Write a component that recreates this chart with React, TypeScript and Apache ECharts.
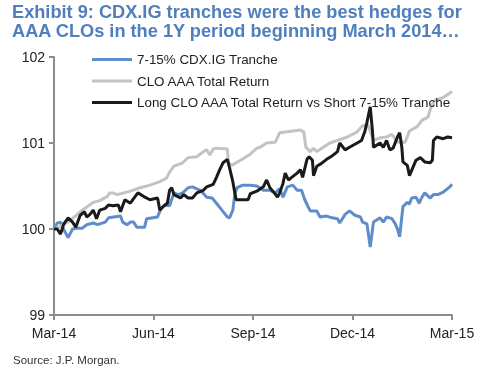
import React, { useEffect, useRef } from 'react';
import * as echarts from 'echarts';

const xTickLabels = ['Mar-14', 'Jun-14', 'Sep-14', 'Dec-14', 'Mar-15'];
const daysPerQuarter = 91.25;
const yTicks = [99, 100, 101, 102];
const seriesNames = [
  '7-15% CDX.IG Tranche',
  'CLO AAA Total Return',
  'Long CLO AAA Total Return vs Short 7-15% Tranche',
];

// [days since start of Mar-14, value]
const tranche = [
  [0, 100.0], [3, 100.07], [6, 100.08], [9, 99.99], [13, 99.9], [17, 100.0], [21, 100.01], [26, 100.01], [30, 100.05], [36, 100.07],
  [40, 100.05], [47, 100.08], [50, 100.13], [61, 100.15], [63, 100.08], [67, 100.05], [70, 100.08], [73, 100.08], [76, 100.02], [83, 100.02],
  [85, 100.12], [95, 100.14], [98, 100.24], [102, 100.28], [106, 100.27], [110, 100.42], [114, 100.4], [118, 100.42], [123, 100.48], [127, 100.49],
  [134, 100.45], [138, 100.4], [140, 100.37], [145, 100.36], [149, 100.3], [154, 100.22], [159, 100.14], [161, 100.13], [164, 100.22], [166, 100.42],
  [168, 100.48], [173, 100.51], [180, 100.51], [186, 100.5], [192, 100.45], [198, 100.45], [203, 100.42], [207, 100.47], [210, 100.37], [214, 100.49],
  [219, 100.51], [223, 100.45], [227, 100.45], [230, 100.34], [233, 100.26], [235, 100.21], [241, 100.21], [244, 100.14], [250, 100.15], [255, 100.13],
  [260, 100.12], [262, 100.07], [267, 100.17], [271, 100.21], [276, 100.16], [281, 100.14], [283, 100.08], [287, 100.06], [290, 99.79], [293, 100.08],
  [299, 100.13], [302, 100.08], [305, 100.14], [310, 100.12], [313, 100.06], [315, 100.0], [317, 99.91], [320, 100.26], [324, 100.31], [326, 100.29],
  [328, 100.36], [332, 100.37], [335, 100.3], [337, 100.36], [340, 100.42], [345, 100.36], [348, 100.4], [352, 100.4], [357, 100.43], [363, 100.49],
  [365, 100.52],
];

const cloAaa = [
  [0, 100.0], [6, 100.03], [15, 100.1], [24, 100.2], [36, 100.31], [42, 100.33], [49, 100.38], [51, 100.42], [54, 100.42], [58, 100.4],
  [70, 100.44], [79, 100.48], [88, 100.51], [97, 100.55], [103, 100.59], [106, 100.66], [110, 100.73], [118, 100.77], [123, 100.83], [131, 100.84],
  [137, 100.9], [140, 100.92], [143, 100.86], [146, 100.93], [149, 100.94], [159, 100.93], [160, 100.77], [163, 100.74], [171, 100.8], [180, 100.87],
  [186, 100.94], [189, 100.95], [195, 101.0], [203, 101.01], [207, 101.12], [214, 101.13], [226, 101.15], [229, 101.13], [231, 100.95], [235, 100.9],
  [238, 100.94], [241, 100.9], [247, 100.95], [253, 101.0], [260, 101.03], [269, 101.07], [278, 101.13], [283, 101.2], [288, 101.21], [293, 101.03],
  [299, 101.06], [305, 101.07], [310, 101.1], [315, 101.01], [322, 101.01], [326, 101.14], [333, 101.19], [338, 101.27], [343, 101.3], [346, 101.43],
  [349, 101.49], [357, 101.53], [363, 101.58], [365, 101.6],
];

const longShort = [
  [0, 100.0], [3, 100.0], [6, 99.94], [9, 100.06], [13, 100.13], [17, 100.08], [20, 100.02], [24, 100.16], [28, 100.2], [30, 100.14],
  [33, 100.17], [36, 100.22], [39, 100.12], [42, 100.22], [47, 100.24], [50, 100.28], [54, 100.27], [59, 100.28], [61, 100.2], [65, 100.34],
  [70, 100.3], [74, 100.37], [77, 100.42], [82, 100.38], [88, 100.34], [95, 100.36], [97, 100.22], [101, 100.27], [104, 100.3], [106, 100.45],
  [108, 100.48], [110, 100.4], [116, 100.36], [119, 100.4], [123, 100.36], [127, 100.36], [131, 100.42], [137, 100.45], [140, 100.49], [146, 100.52],
  [149, 100.6], [152, 100.69], [155, 100.77], [159, 100.81], [161, 100.71], [164, 100.55], [167, 100.34], [171, 100.34], [178, 100.34], [180, 100.41],
  [186, 100.44], [192, 100.49], [195, 100.57], [198, 100.48], [202, 100.42], [205, 100.37], [207, 100.42], [210, 100.53], [212, 100.65], [215, 100.57],
  [218, 100.6], [223, 100.65], [226, 100.69], [228, 100.6], [232, 100.81], [234, 100.84], [237, 100.8], [238, 100.62], [241, 100.73], [245, 100.76],
  [250, 100.81], [255, 100.85], [260, 100.9], [262, 101.0], [267, 100.92], [271, 100.95], [278, 101.0], [282, 101.03], [285, 101.13], [287, 101.24],
  [290, 101.42], [292, 101.15], [293, 100.95], [299, 101.0], [302, 100.95], [305, 101.03], [308, 100.92], [311, 100.94], [315, 101.07], [317, 101.12],
  [319, 100.95], [320, 100.78], [324, 100.74], [326, 100.62], [329, 100.71], [332, 100.8], [336, 100.83], [340, 100.78], [345, 100.77], [347, 100.8],
  [348, 101.03], [351, 101.07], [357, 101.05], [361, 101.07], [365, 101.06],
];

const colors = ['#5F8DCB', '#C3C3C3', '#1A1A1A'];
const fontFamily = 'Liberation Sans, Arial, sans-serif';

export default function App() {
  const ref = useRef<HTMLDivElement>(null);
  useEffect(() => {
    if (!ref.current) return;
    const chart = echarts.init(ref.current, undefined, { renderer: 'svg' });
    const axisLineStyle = { color: '#8C8C8C', width: 2 };
    chart.setOption({
      animation: false,
      color: colors,
      textStyle: { fontFamily },
      title: {
        text: 'Exhibit 9: CDX.IG tranches were the best hedges for\nAAA CLOs in the 1Y period beginning March 2014…',
        left: 12,
        top: 2,
        padding: 0,
        textStyle: {
          fontFamily,
          fontSize: 18.2,
          fontWeight: 'bold',
          color: '#4F7FBF',
          lineHeight: 19,
        },
      },
      legend: {
        data: seriesNames,
        orient: 'vertical',
        left: 92,
        top: 53,
        padding: 0,
        icon: 'rect',
        itemWidth: 40,
        itemHeight: 3,
        itemGap: 8.5,
        textStyle: { fontSize: 13.4, color: '#222', fontFamily },
      },
      grid: { left: 54, right: 36, top: 57, bottom: 60, outerBoundsMode: 'none' },
      xAxis: {
        type: 'value',
        min: 0,
        max: 365,
        interval: daysPerQuarter,
        axisLine: { show: true, lineStyle: axisLineStyle },
        axisTick: { show: true, length: 5, lineStyle: axisLineStyle },
        splitLine: { show: false },
        axisLabel: {
          fontSize: 14,
          color: '#222',
          margin: 11,
          formatter: (v: number) => xTickLabels[Math.round(v / daysPerQuarter)] ?? '',
        },
      },
      yAxis: {
        type: 'value',
        min: yTicks[0],
        max: yTicks[yTicks.length - 1],
        interval: 1,
        axisLine: { show: true, lineStyle: axisLineStyle },
        axisTick: { show: true, length: 5, lineStyle: axisLineStyle },
        splitLine: { show: false },
        axisLabel: { fontSize: 14, color: '#222', margin: 9 },
      },
      series: [
        { name: seriesNames[0], type: 'line', data: tranche, showSymbol: false, lineStyle: { width: 3 } },
        { name: seriesNames[1], type: 'line', data: cloAaa, showSymbol: false, lineStyle: { width: 3 } },
        { name: seriesNames[2], type: 'line', data: longShort, showSymbol: false, lineStyle: { width: 3 } },
      ],
      graphic: [
        {
          type: 'text',
          left: 13,
          top: 354,
          style: { text: 'Source: J.P. Morgan.', fontSize: 11.5, fill: '#333', fontFamily },
        },
      ],
    });
    return () => chart.dispose();
  }, []);
  return <div ref={ref} style={{ position: 'fixed', left: 0, top: 0, width: 488, height: 375 }} />;
}
